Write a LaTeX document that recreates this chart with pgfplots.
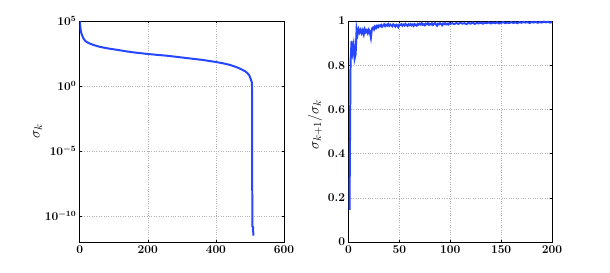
\documentclass[border=0pt]{standalone}
\usepackage{pgfplots}
\pgfplotsset{compat=1.18}
\definecolor{lineblue}{RGB}{38,70,255}
\begin{document}
\begin{tikzpicture}
\useasboundingbox (0bp,0bp) rectangle (610bp,273bp);
\pgfplotsset{
  every axis/.append style={
    scale only axis,
    axis line style={black, line width=0.8pt},
    grid=major,
    major grid style={gray!60, dotted, line width=0.6pt},
    tick style={black, line width=0.5pt},
    major tick length=2pt,
    tick align=inside,
    tick label style={font=\fontsize{12}{14}\selectfont\boldmath\bfseries},
    label style={font=\fontsize{15.5}{18}\selectfont},
  }
}
\begin{axis}[
  at={(79.7bp,31bp)}, anchor=south west,
  width=204.3bp, height=221bp,
  ymode=log,
  xmin=0, xmax=600, ymin=1e-12, ymax=1e5,
  xtick={0,200,400,600},
  ytick={1e-10,1e-5,1,1e5},
  minor ytick={}, 
  log basis y=10,
  ylabel={$\sigma_k$},
  ylabel style={at={(axis description cs:-0.205,0.5)}, anchor=center},
]
\addplot[lineblue, line width=2pt] coordinates {
(0,1e5) (1,5.62e4) (2,3.16e4) (3,2.0e4) (4,1.41e4) (5,1.12e4) (7,7.94e3) (9,6.03e3)
(12,4.17e3) (16,3.02e3) (20,2.51e3) (25,2.09e3) (30,1.82e3) (40,1.45e3) (50,1.20e3)
(60,1.02e3) (75,851) (90,724) (110,603) (138,457) (160,380) (197,295) (230,245)
(256,214) (295,162) (330,126) (360,102) (397,72.4) (420,56.2) (440,42.7) (452,33.9)
(465,25.1) (475,19.1) (486,13.5) (493,9.55) (498,6.61) (501,4.27) (503,3.02)
(505,2.09) (506,1.58) (507,1.58e-11) (508,1.5e-11) (509,1.41e-11) (510,3.55e-12) (511,3.16e-12)
};
\end{axis}
\begin{axis}[
  at={(348.5bp,31bp)}, anchor=south west,
  width=203.5bp, height=221bp,
  xmin=0, xmax=200, ymin=0, ymax=1,
  xtick={0,50,100,150,200},
  ytick={0,0.2,0.4,0.6,0.8,1},
  yticklabels={0,0.2,0.4,0.6,0.8,1},
  ylabel={$\sigma_{k+1}\big/\sigma_k$},
  ylabel style={at={(axis description cs:-0.165,0.53)}, anchor=center},
]
\addplot[lineblue, line width=2pt] coordinates {
(1,0.145) (2,0.81) (3,0.91) (4,0.86) (5,0.89) (6,0.83) (7,0.85) (8,0.965) (9,0.94) (10,0.962)
(11,0.948) (12,0.96) (13,0.945) (14,0.958) (15,0.94) (16,0.962) (17,0.95) (18,0.958) (19,0.945) (20,0.96)
(21,0.95) (22,0.925) (23,0.965) (24,0.97) (25,0.962) (26,0.975) (27,0.968) (28,0.978) (29,0.972) (30,0.98)
(31,0.976) (32,0.982) (33,0.974) (34,0.98) (35,0.985) (36,0.977) (37,0.983) (38,0.979) (39,0.986) (40,0.978)
(41,0.984) (42,0.98) (43,0.976) (44,0.985) (45,0.981) (46,0.975) (47,0.983) (48,0.979) (49,0.972) (50,0.984)
(51,0.982) (52,0.986) (53,0.979) (54,0.984) (55,0.98) (56,0.987) (57,0.982) (58,0.978) (59,0.985) (60,0.981)
(61,0.986) (62,0.98) (63,0.984) (64,0.978) (65,0.986) (66,0.982) (67,0.979) (68,0.987) (69,0.983) (70,0.988)
(71,0.984) (72,0.99) (73,0.983) (74,0.986) (75,0.981) (76,0.988) (77,0.985) (78,0.99) (79,0.983) (80,0.987)
(81,0.984) (82,0.989) (83,0.982) (84,0.987) (85,0.991) (86,0.984) (87,0.979) (88,0.988) (89,0.985) (90,0.99)
(91,0.986) (92,0.981) (93,0.989) (94,0.986) (95,0.99) (96,0.985) (97,0.988) (98,0.984) (99,0.99) (100,0.987)
(102,0.99) (104,0.986) (106,0.991) (108,0.987) (110,0.992) (112,0.988) (114,0.99) (116,0.986) (118,0.992) (120,0.988)
(122,0.993) (124,0.987) (126,0.991) (128,0.989) (130,0.993) (132,0.988) (134,0.992) (136,0.99) (138,0.994) (140,0.989)
(142,0.993) (144,0.99) (146,0.994) (148,0.989) (150,0.992) (152,0.995) (154,0.99) (156,0.993) (158,0.991) (160,0.995)
(162,0.991) (164,0.994) (166,0.99) (168,0.995) (170,0.992) (172,0.996) (174,0.993) (176,0.995) (178,0.991) (180,0.996)
(182,0.993) (184,0.996) (186,0.992) (188,0.995) (190,0.993) (192,0.997) (194,0.994) (196,0.996) (198,0.993) (200,0.995)
};
\end{axis}
\end{tikzpicture}
\end{document}
